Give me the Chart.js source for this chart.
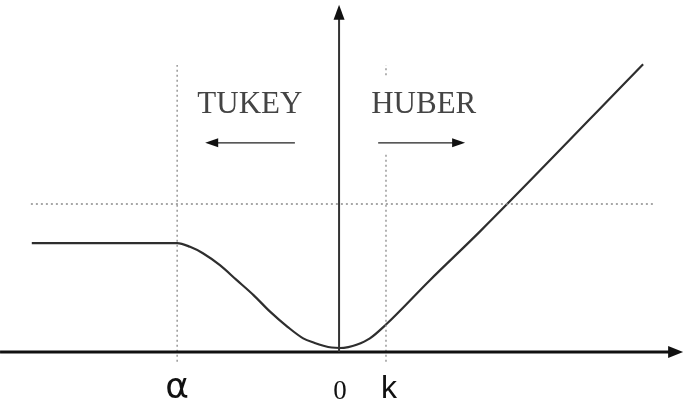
<!DOCTYPE html>
<html>
<head>
<meta charset="utf-8">
<script src="https://cdn.jsdelivr.net/npm/chart.js@4/dist/chart.umd.min.js"></script>
<style>
  html, body { margin: 0; padding: 0; background: #fff; }
  #wrap { width: 690px; height: 402px; }
</style>
</head>
<body>
<div id="wrap"><canvas id="rho-chart" width="690" height="402"></canvas></div>
<script>
// loss curve: flat Tukey tail on the left, Huber linear part on the right (x in units of k)
const curveX = [-6.70, -3.54, -3.26, -2.98, -2.61, -2.25, -1.88, -1.52, -1.14, -0.80, -0.55, -0.36, -0.18, 0.00, 0.18, 0.36, 0.65, 1.00, 1.96, 3.04, 6.59];
const curveY = [ 2.28,  2.28,  2.20,  2.06,  1.80,  1.48,  1.15,  0.79,  0.46,  0.21,  0.11,  0.05,  0.01, 0.00, 0.02, 0.07, 0.21, 0.51, 1.48, 2.53, 6.17];

// cut-off points marked under the axis
const tickValues = [-3.54, 0, 1];
const tickLabels = ["α", "0", "k"];

// horizontal reference level
const refLevel = 3.13;
const refSpan = [-6.72, 6.85];

const regionLabels = ["TUKEY", "HUBER"];

const curvePoints = curveX.map((x, i) => ({ x: x, y: curveY[i] }));

function arrowHead(ctx, x, y, dir, len, half) {
  // dir: 'left' | 'right' | 'up'
  ctx.beginPath();
  if (dir === "right") {
    ctx.moveTo(x, y); ctx.lineTo(x - len, y - half); ctx.lineTo(x - len, y + half);
  } else if (dir === "left") {
    ctx.moveTo(x, y); ctx.lineTo(x + len, y - half); ctx.lineTo(x + len, y + half);
  } else {
    ctx.moveTo(x, y); ctx.lineTo(x - half, y + len); ctx.lineTo(x + half, y + len);
  }
  ctx.closePath();
  ctx.fill();
}

const decorations = {
  id: "decorations",
  afterDatasetsDraw(chart) {
    const ctx = chart.ctx;
    const xs = chart.scales.x, ys = chart.scales.y;
    const px = v => xs.getPixelForValue(v);
    const py = v => ys.getPixelForValue(v);
    ctx.save();

    // horizontal axis with arrow
    const axisY = py(-0.087);
    ctx.strokeStyle = "#111";
    ctx.fillStyle = "#111";
    ctx.lineWidth = 3;
    ctx.beginPath();
    ctx.moveTo(px(-7.39), axisY);
    ctx.lineTo(px(7.2), axisY);
    ctx.stroke();
    arrowHead(ctx, px(7.46), axisY, "right", 15, 6);

    // vertical axis with arrow
    const axisX = px(-0.02);
    ctx.strokeStyle = "#333";
    ctx.lineWidth = 2;
    ctx.beginPath();
    ctx.moveTo(axisX, axisY);
    ctx.lineTo(axisX, py(7.2));
    ctx.stroke();
    ctx.fillStyle = "#111";
    arrowHead(ctx, axisX, py(7.46), "up", 15, 5.5);

    // direction arrows
    ctx.strokeStyle = "#222";
    ctx.fillStyle = "#111";
    ctx.lineWidth = 1.2;
    const arrY = py(4.46);
    ctx.beginPath();
    ctx.moveTo(px(-0.98), arrY); ctx.lineTo(px(-2.8), arrY);
    ctx.moveTo(px(0.83), arrY); ctx.lineTo(px(2.65), arrY);
    ctx.stroke();
    arrowHead(ctx, px(-2.93), arrY, "left", 13, 4.5);
    arrowHead(ctx, px(2.72), arrY, "right", 13, 4.5);

    // region names
    ctx.fillStyle = "#444";
    ctx.font = "31px 'Liberation Serif', serif";
    ctx.textAlign = "center";
    ctx.textBaseline = "alphabetic";
    ctx.fillText(regionLabels[0], px(-1.96), py(5.11));
    ctx.fillText(regionLabels[1], px(1.82), py(5.11));

    // tick labels under the axis
    ctx.fillStyle = "#111";
    const fonts = ["36px 'DejaVu Sans', sans-serif", "27px 'Liberation Serif', serif", "32px 'Liberation Sans', sans-serif"];
    const bases = [-1.08, -1.1, -1.08];
    tickValues.forEach((v, i) => {
      ctx.font = fonts[i];
      ctx.fillText(tickLabels[i], px(v) + (i === 2 ? 3 : 0), py(bases[i]));
    });

    ctx.restore();
  }
};

const dotted = {
  borderColor: "#8a8a8a",
  borderWidth: 1.3,
  borderDash: [2, 3],
  pointRadius: 0,
  showLine: true,
  tension: 0
};

new Chart(document.getElementById("rho-chart").getContext("2d"), {
  type: "scatter",
  data: {
    datasets: [
      Object.assign({
        data: [{ x: refSpan[0], y: refLevel }, { x: refSpan[1], y: refLevel }]
      }, dotted),
      Object.assign({
        data: [{ x: tickValues[0], y: -0.3 }, { x: tickValues[0], y: 6.15 }]
      }, dotted),
      Object.assign({
        data: [{ x: tickValues[2], y: -0.3 }, { x: tickValues[2], y: 4.2 }, { x: tickValues[2], y: null }, { x: tickValues[2], y: 5.93 }, { x: tickValues[2], y: 6.15 }],
        spanGaps: false
      }, dotted),
      {
        data: curvePoints,
        showLine: true,
        borderColor: "#2e2e2e",
        borderWidth: 2.2,
        pointRadius: 0,
        cubicInterpolationMode: "monotone"
      }
    ]
  },
  options: {
    responsive: false,
    animation: false,
    layout: { padding: 0 },
    scales: {
      x: { type: "linear", min: -7.391, max: 7.609, display: false },
      y: { type: "linear", min: -1.174, max: 7.565, display: false }
    },
    plugins: {
      legend: { display: false },
      tooltip: { enabled: false }
    }
  },
  plugins: [decorations]
});
</script>
</body>
</html>
